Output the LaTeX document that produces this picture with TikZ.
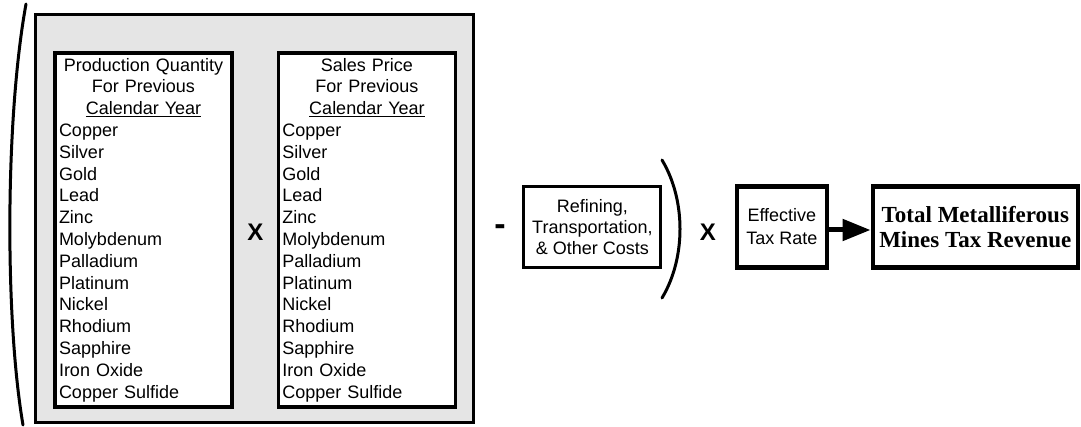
\documentclass[tikz,border=0pt]{standalone}
\usepackage{fontspec}
\setmainfont{Liberation Sans}
\newfontfamily\timesfont{Liberation Serif}
\usetikzlibrary{arrows.meta}

\tikzstyle{panel} = [rectangle, draw=black, line width=3pt, fill=gray!20,
minimum width=438pt, minimum height=407pt]
\tikzstyle{listbox} = [rectangle, draw=black, line width=3.5pt, fill=white,
minimum width=177pt, minimum height=354pt, inner sep=4pt, text width=169pt,
align=left, font=\fontsize{18}{21.8}\selectfont]
\tikzstyle{block} = [rectangle, draw=black, line width=3pt, minimum height=81pt,
align=center, inner sep=2pt]
\tikzstyle{op} = [font=\bfseries\fontsize{24}{24}\selectfont]
\tikzstyle{arrow} = [line width=5pt,-{Triangle[length=28pt,width=21pt]}]
\tikzstyle{paren} = [line width=3pt, line cap=round]

\newcommand{\mineralnames}{Copper\\Silver\\Gold\\Lead\\Zinc\\Molybdenum\\
Palladium\\Platinum\\Nickel\\Rhodium\\Sapphire\\Iron Oxide\\Copper Sulfide}

\begin{document}
\begin{tikzpicture}[x=1pt, y=-1pt]
    \useasboundingbox (0,0) rectangle (1081,427);

    \node (panel) [panel] at (254,218.5) {};
    \node (qty) [listbox] at (143.5,230) {\noindent{\centering Production Quantity\\
        For Previous\\\underline{Calendar Year}\par}\noindent\mineralnames};
    \node (price) [listbox, right of=qty, xshift=195pt] {\noindent{\centering Sales Price\\
        For Previous\\\underline{Calendar Year}\par}\noindent\mineralnames};
    \node (times1) [op, right of=qty, xshift=83.3pt, yshift=-2pt] {X};

    \node (minus) [op, font=\bfseries\fontsize{34}{34}\selectfont, right of=price, xshift=104.5pt] {-};
    \node (costs) [block, minimum width=137pt, right of=price, xshift=197pt, yshift=3pt,
        font=\fontsize{18}{21}\selectfont] {Refining,\\Transportation,\\\& Other Costs};
    \node (times2) [op, right of=costs, xshift=87pt, yshift=-5pt] {X};
    \node (rate) [block, line width=4.5pt, minimum width=90pt, right of=costs, xshift=161pt,
        font=\fontsize{18}{23}\selectfont] {Effective\\Tax Rate};
    \node (revenue) [block, line width=4.5pt, minimum width=205pt, right of=rate, xshift=165pt,
        font=\timesfont\bfseries\fontsize{23}{25}\selectfont] {Total Metalliferous\\Mines Tax Revenue};

    % brackets round the gross value
    \draw [paren] (26,4) .. controls (5,120) and (5,320) .. (23,425);
    \draw [paren] (662,160) .. controls (686,200) and (686,258) .. (662,298);

    \draw [arrow] ([yshift=-3pt]rate.east) -- ([yshift=-3pt]revenue.west);
\end{tikzpicture}
\end{document}
